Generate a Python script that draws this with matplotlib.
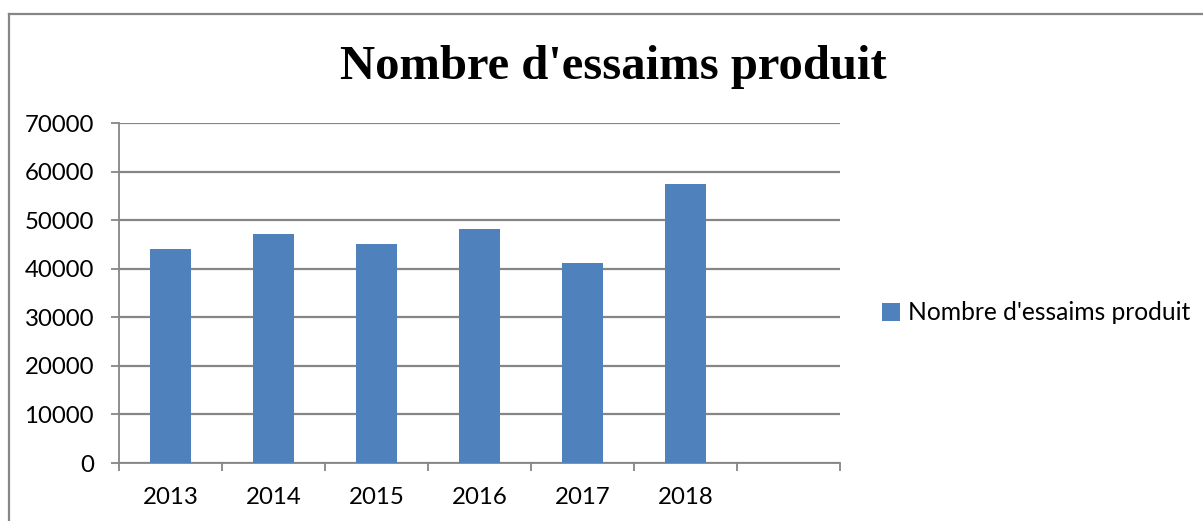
import matplotlib
matplotlib.use("Agg")
import matplotlib.pyplot as plt
from matplotlib.lines import Line2D
from matplotlib.patches import Patch

years = ["2013", "2014", "2015", "2016", "2017", "2018"]
values = [44100, 47100, 45100, 48100, 41100, 57400]
series_name = "Nombre d'essaims produit"
title = "Nombre d'essaims produit"
n_slots = 7

W, H = 1203, 521
fig = plt.figure(figsize=(W / 100, H / 100), dpi=100)
fig.patch.set_facecolor("white")

grey = "#868686"
ax = fig.add_axes([119 / W, 1 - 463 / H, (840 - 119) / W, (463 - 123) / H])
x = list(range(len(years)))
ax.bar(x, values, width=0.4, color="#4F81BD", zorder=3)
ax.set_xlim(-0.5, n_slots - 0.5)
ax.set_ylim(0, 70000)
ax.set_yticks(range(0, 70001, 10000))
ax.set_yticklabels([str(v) for v in range(0, 70001, 10000)])
ax.set_xticks(x)
ax.set_xticklabels(years)
ax.set_xticks([i - 0.5 for i in range(n_slots + 1)], minor=True)
ax.tick_params(axis="x", which="major", length=0, pad=17)
ax.tick_params(axis="x", which="minor", length=6, width=1.3, color=grey, direction="out")
ax.tick_params(axis="y", length=6, width=1.3, color=grey, pad=12)
for lbl in ax.get_xticklabels() + ax.get_yticklabels():
    lbl.set_fontfamily("Lato")
    lbl.set_fontsize(17.3)
    lbl.set_color("black")
ax.grid(axis="y", color=grey, linewidth=1.6, zorder=0)
for s in ["top", "right"]:
    ax.spines[s].set_visible(False)
for s in ["left", "bottom"]:
    ax.spines[s].set_color(grey)
    ax.spines[s].set_linewidth(1.3)

fig.text(613 / W, 1 - 79 / H, title, ha="center", va="baseline",
         fontfamily="Liberation Serif", fontweight="bold", fontsize=35)

handle = Patch(facecolor="#4F81BD", edgecolor="none")
leg = fig.legend([handle], [series_name], loc="center left",
                 bbox_to_anchor=(882 / W, 1 - 313 / H), frameon=False,
                 handlelength=0.75, handleheight=0.75, handletextpad=0.3,
                 borderpad=0, borderaxespad=0,
                 prop={"family": "Lato", "size": 17.7})

fig.add_artist(Line2D([9 / W, 1.0], [1 - 14 / H, 1 - 14 / H], color=grey, linewidth=1.6,
                      transform=fig.transFigure))
fig.add_artist(Line2D([9 / W, 9 / W], [0, 1 - 14 / H], color=grey, linewidth=1.6,
                      transform=fig.transFigure))

fig.savefig("out.png", dpi=100)
